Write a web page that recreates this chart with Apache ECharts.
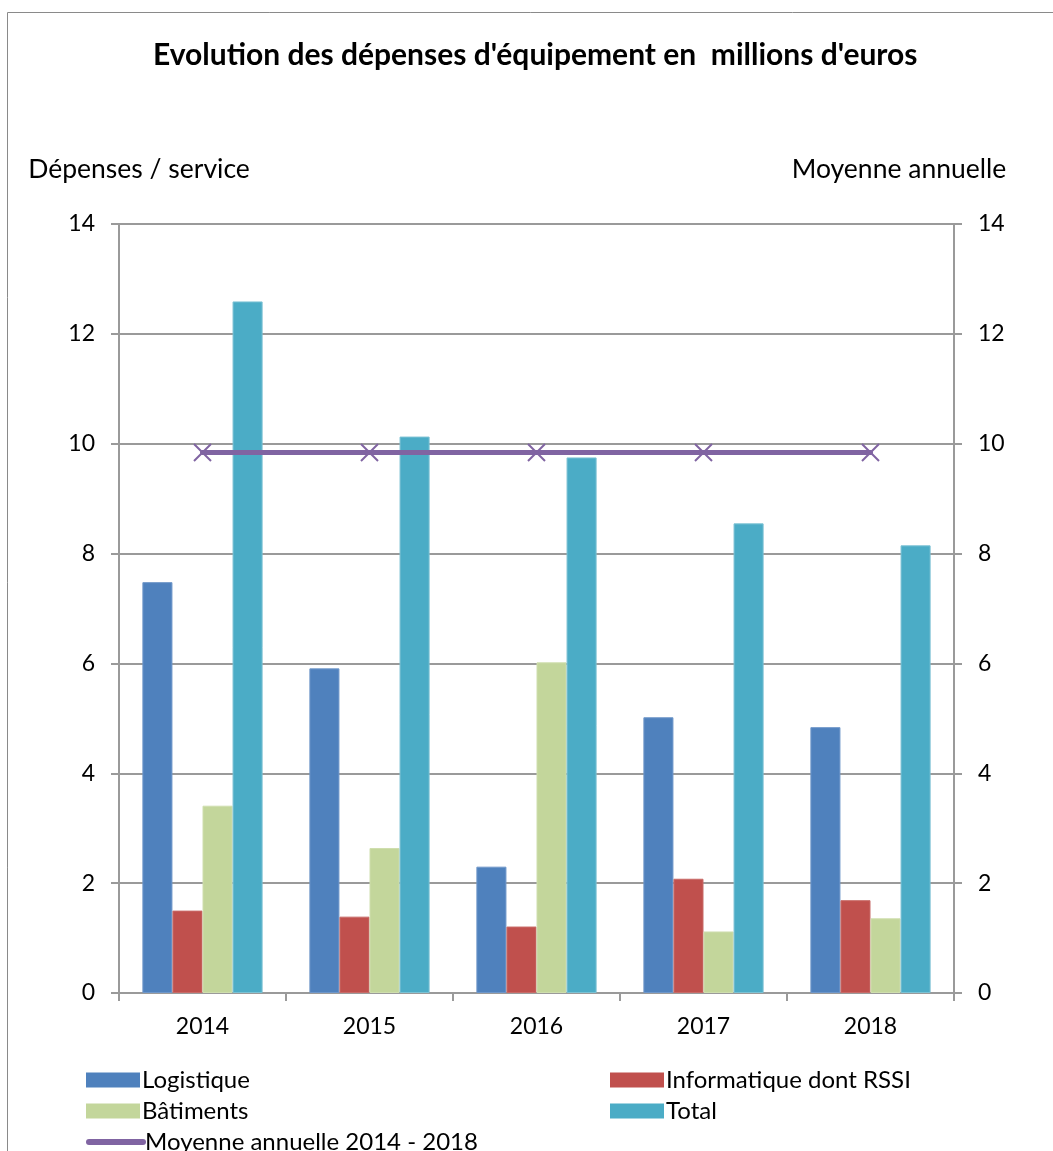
<!DOCTYPE html>
<html>
<head>
<meta charset="utf-8">
<script src="https://cdn.jsdelivr.net/npm/echarts@6/dist/echarts.min.js"></script>
<style>
  html, body { margin: 0; padding: 0; background: #fff; }
  #chart { width: 1053px; height: 1151px; }
</style>
</head>
<body>
<div id="chart"></div>
<script>
// Années
const years = ['2014', '2015', '2016', '2017', '2018'];
// Dépenses par service (millions d'euros)
const logistique = [7.48, 5.91, 2.30, 5.02, 4.84];
const informatique = [1.50, 1.39, 1.21, 2.08, 1.69];
const batiments = [3.41, 2.64, 6.02, 1.12, 1.36];
const total = [12.59, 10.13, 9.75, 8.55, 8.15];
// Moyenne annuelle 2014 - 2018
const moyenne = [9.84, 9.84, 9.84, 9.84, 9.84];
// Graduations des axes
const yTicks = [0, 2, 4, 6, 8, 10, 12, 14];

const FONT = 'Lato, "Noto Sans", sans-serif';
const GRID_COLOR = '#9a9a9a';
const PURPLE = '#8064A2';
const crossPath = 'path://M0,0 L10,10 M10,0 L0,10';

const chart = echarts.init(document.getElementById('chart'), null, { renderer: 'canvas' });

const valueAxis = (pos, name, pad) => ({
  type: 'value',
  position: pos,
  min: yTicks[0],
  max: yTicks[yTicks.length - 1],
  interval: yTicks[1] - yTicks[0],
  name: name,
  nameLocation: 'end',
  nameGap: 41,
  nameTextStyle: { fontFamily: FONT, fontSize: 26.5, color: '#000', align: 'center', padding: pad },
  axisLine: { show: true, lineStyle: { color: GRID_COLOR, width: 2 } },
  axisTick: { show: true, inside: false, length: 8, lineStyle: { color: GRID_COLOR, width: 2 } },
  axisLabel: { margin: 24, fontFamily: FONT, fontSize: 23, color: '#000' },
  splitLine: { show: pos === 'left', lineStyle: { color: GRID_COLOR, width: 2 } }
});

const barSeries = (name, data, color, border) => ({
  name: name,
  type: 'bar',
  data: data,
  barGap: '0%',
  barCategoryGap: '28%',
  itemStyle: { color: color, borderColor: border, borderWidth: 1 },
  emphasis: { disabled: true }
});

// One legend entry per slot: two columns, three rows
const legendItem = (name, left, top, isLine) => ({
  orient: 'horizontal',
  left: left,
  top: top,
  padding: 0,
  itemWidth: 54,
  itemHeight: 15,
  selectedMode: false,
  icon: isLine ? undefined : 'rect',
  itemStyle: isLine ? undefined : { borderWidth: 0 },
  textStyle: { fontFamily: FONT, fontSize: 24, color: '#000', lineHeight: 24, padding: [0, 0, 0, -3] },
  lineStyle: { width: 6, cap: 'round' },
  data: [name]
});

chart.setOption({
  animation: false,
  backgroundColor: '#fff',
  title: {
    text: "Evolution des dépenses d'équipement en  millions d'euros",
    left: 148,
    top: 35,
    textStyle: { fontFamily: FONT, fontSize: 30, fontWeight: 'bold', color: '#000' }
  },
  graphic: [{
    type: 'rect',
    shape: { x: 7.5, y: 12.5, width: 1100, height: 1200 },
    style: { fill: 'none', stroke: '#8a8a8a', lineWidth: 1 },
    silent: true,
    z: -1
  }],
  grid: { left: 119, right: 99, top: 224, bottom: 158 },
  legend: [
    legendItem('Logistique', 86, 1068, false),
    legendItem('Informatique dont RSSI', 610, 1068, false),
    legendItem('Bâtiments', 86, 1099, false),
    legendItem('Total', 610, 1099, false),
    legendItem('Moyenne annuelle 2014 - 2018', 86, 1130, true)
  ],
  xAxis: {
    type: 'category',
    data: years,
    boundaryGap: true,
    axisLine: { show: true, lineStyle: { color: GRID_COLOR, width: 2 } },
    axisTick: { show: true, alignWithLabel: false, length: 8, lineStyle: { color: GRID_COLOR, width: 2 } },
    axisLabel: { margin: 22, fontFamily: FONT, fontSize: 23, color: '#000' },
    splitLine: { show: false }
  },
  yAxis: [
    valueAxis('left', 'Dépenses / service', [0, 0, 0, 40]),
    valueAxis('right', 'Moyenne annuelle', [0, 110, 0, 0])
  ],
  series: [
    barSeries('Logistique', logistique, '#4F81BD', '#6f97c9'),
    barSeries('Informatique dont RSSI', informatique, '#C0504D', '#c86b68'),
    barSeries('Bâtiments', batiments, '#C3D69B', '#cfdeae'),
    barSeries('Total', total, '#4BACC6', '#7cc2d4'),
    {
      name: 'Moyenne annuelle 2014 - 2018',
      type: 'line',
      yAxisIndex: 1,
      data: moyenne,
      symbol: crossPath,
      symbolSize: 17,
      showAllSymbol: true,
      lineStyle: { color: PURPLE, width: 5, cap: 'round' },
      itemStyle: { color: 'none', borderColor: PURPLE, borderWidth: 2 },
      emphasis: { disabled: true },
      z: 5
    }
  ]
});
</script>
</body>
</html>
